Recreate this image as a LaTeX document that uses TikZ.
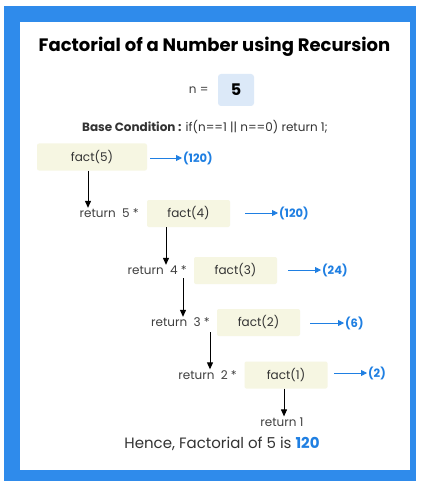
\documentclass[tikz,border=0pt]{standalone}
\usepackage{fontspec}
\setmainfont{Poppins}
\usetikzlibrary{arrows.meta}

\definecolor{framblue}{HTML}{2F8BEB}
\definecolor{boxcream}{HTML}{F6F6E2}
\definecolor{nboxblue}{HTML}{DCE9F8}
\definecolor{valblue}{HTML}{1F7FE2}

\begin{document}
\begin{tikzpicture}[x=1pt,y=-1pt,
  factbox/.style={fill=boxcream, rounded corners=2pt, minimum width=83pt, minimum height=27pt, inner sep=0pt, text=black!80, font=\fontsize{12}{14}\selectfont},
  rettext/.style={anchor=east, inner sep=1pt, text=black!75, font=\fontsize{12}{14}\selectfont},
  valtext/.style={anchor=west, inner sep=1pt, text=valblue, font=\bfseries\fontsize{11.5}{14}\selectfont},
  downarrow/.style={-{Triangle[length=7pt,width=6pt]}, line width=1pt},
  resarrow/.style={valblue, line width=0.8pt, -{Triangle[length=6pt,width=6pt]}}]
  \useasboundingbox (0,0) rectangle (420,481);
  % frame
  \fill[framblue] (4,6) rectangle (416,481);
  \fill[white] (20,22) rectangle (410,470);

  % heading
  \node (title) at (214.5,47) {\bfseries\fontsize{18}{20}\selectfont Factorial of a Number using Recursion};
  \node[fill=nboxblue, rounded corners=3pt, minimum width=36pt, minimum height=32pt] (nbox) at (236,90) {\bfseries\fontsize{16}{18}\selectfont 5};
  \node[anchor=east, text=black!75, font=\fontsize{12}{14}\selectfont] (nlabel) at (212,90) {n =};
  \node[font=\fontsize{12}{14}\selectfont, text=black!80] (base) at (205,127) {\textbf{Base Condition :} if(n==1 || n==0) return 1;};

  % calls
  \node[factbox, minimum width=110pt] (fact5) at (92,157) {fact(5)};
  \node[factbox] (fact4) at (188.5,213.5) {fact(4)};
  \node[factbox] (fact3) at (235.5,270.5) {fact(3)};
  \node[factbox] (fact2) at (258.5,322.5) {fact(2)};
  \node[factbox] (fact1) at (286,375) {fact(1)};

  \node[rettext] (ret5) at (140,213.5) {return\ \ 5 *};
  \node[rettext] (ret4) at (188,270.5) {return\ \ 4 *};
  \node[rettext] (ret3) at (211,322.5) {return\ \ 3 *};
  \node[rettext] (ret2) at (238,375) {return\ \ 2 *};
  \node[inner sep=1pt, text=black!75, font=\fontsize{12}{14}\selectfont] (ret1) at (282,422) {return 1};

  % results
  \node[valtext] (val5) at (182,158) {(120)};
  \node[valtext] (val4) at (278,213) {(120)};
  \node[valtext] (val3) at (321,270) {(24)};
  \node[valtext] (val2) at (344,323) {(6)};
  \node[valtext] (val1) at (367,373) {(2)};
  \coordinate (r5) at (150,158);
  \coordinate (r4) at (245,213);
  \coordinate (r3) at (288,270);
  \coordinate (r2) at (310,323);
  \coordinate (r1) at (334,373);
  \draw[resarrow] (r5) -- (val5.west);
  \draw[resarrow] (r4) -- (val4.west);
  \draw[resarrow] (r3) -- (val3.west);
  \draw[resarrow] (r2) -- (val2.west);
  \draw[resarrow] (r1) -- (val1.west);

  % recursion
  \draw[downarrow] (fact5.south -| 88,0) -- (ret5.north -| 88,0);
  \draw[downarrow] (fact4.south -| 166,0) -- (ret4.north -| 166,0);
  \draw[downarrow] (183,278) -- (ret3.north -| 183,0);
  \draw[downarrow] (210,332) -- (ret2.north -| 210,0);
  \draw[downarrow] (fact1.south -| 284,0) -- (ret1.north -| 284,0);

  \node[font=\fontsize{15}{17}\selectfont, text=black!80] (hence) at (222,444) {Hence, Factorial of 5 is \textcolor{valblue}{\bfseries 120}};
\end{tikzpicture}
\end{document}
